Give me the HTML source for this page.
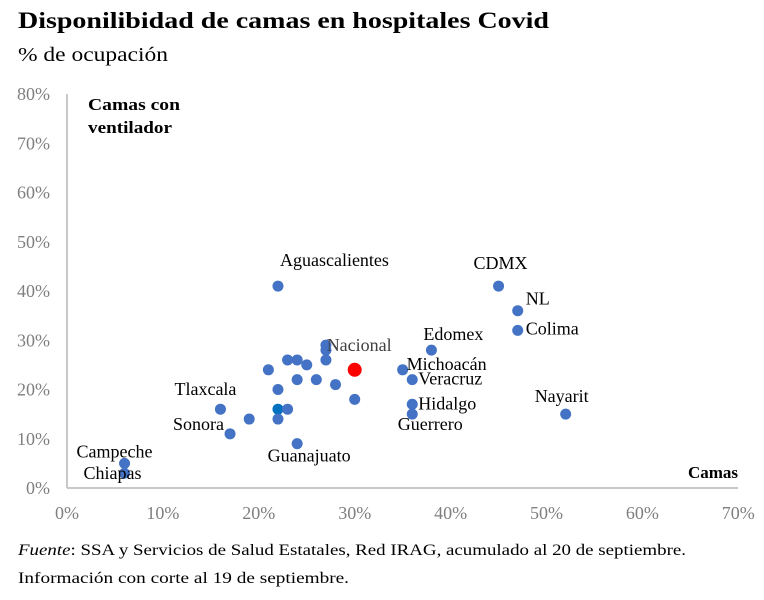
<!DOCTYPE html>
<html><head><meta charset="utf-8"><style>
body{margin:0;background:#fff;width:764px;height:595px;overflow:hidden;font-family:"Liberation Serif",serif}
</style></head><body>
<svg width="764" height="595">
<text x="18" y="28" font-size="23" font-weight="bold" fill="#000" textLength="531" lengthAdjust="spacingAndGlyphs">Disponilibidad de camas en hospitales Covid</text>
<text x="18" y="61" font-size="20" fill="#000" textLength="150" lengthAdjust="spacingAndGlyphs">% de ocupación</text>
<g id="axes"></g>
<g id="pts"></g>
<text x="88" y="110" font-size="17" font-weight="bold" textLength="92" lengthAdjust="spacingAndGlyphs">Camas con</text>
<text x="88" y="133" font-size="17" font-weight="bold" textLength="84" lengthAdjust="spacingAndGlyphs">ventilador</text>
<text x="738" y="478" font-size="17" font-weight="bold" text-anchor="end">Camas</text>
<text x="18" y="555" font-size="16" textLength="668" lengthAdjust="spacingAndGlyphs"><tspan font-style="italic">Fuente</tspan>: SSA y Servicios de Salud Estatales, Red IRAG, acumulado al 20 de septiembre.</text>
<text x="18" y="583" font-size="16" textLength="331" lengthAdjust="spacingAndGlyphs">Información con corte al 19 de septiembre.</text>
</svg>
<script>
const xTicks=[0,10,20,30,40,50,60,70];
const yTicks=[0,10,20,30,40,50,60,70,80];
const names=["Aguascalientes","","","","","","","","Nacional","Michoacán","","","","","","Tlaxcala","","","","","Sonora","Guanajuato","Edomex","Veracruz","Hidalgo","Guerrero","CDMX","NL","Colima","Nayarit","Campeche","Chiapas"];
const xVals=[22,27,27,27,23,24,25,21,30,35,24,26,28,22,30,16,22,23,19,22,17,24,38,36,36,36,45,47,47,52,6,6];
const yVals=[41,29,28,26,26,26,25,24,24,24,22,22,21,20,18,16,16,16,14,14,11,9,28,22,17,15,41,36,32,15,5,3];
const labelPos={"Aguascalientes":[2,-20,"start"],"Nacional":[-28,-19,"start"],"Michoacán":[4,-0,"start"],"Tlaxcala":[16,-14,"end"],"Sonora":[-6,-4,"end"],"Guanajuato":[12,18,"middle"],"Edomex":[22,-10,"middle"],"Veracruz":[6,5,"start"],"Hidalgo":[6,5,"start"],"Guerrero":[18,16,"middle"],"CDMX":[2,-17,"middle"],"NL":[8,-6,"start"],"Colima":[8,4,"start"],"Nayarit":[-4,-12,"middle"],"Campeche":[-10,-6,"middle"],"Chiapas":[-12,6,"middle"]};
const X=v=>67+v*9.59, Y=v=>488-v*4.925;
const ns="http://www.w3.org/2000/svg";
const ax=document.getElementById('axes'), pg=document.getElementById('pts');
function mk(t,a,p){const e=document.createElementNS(ns,t);for(const k in a)e.setAttribute(k,a[k]);p.appendChild(e);return e;}
let l=mk('line',{x1:67,y1:488,x2:738,y2:488,stroke:'#c8c8c8','stroke-width':2},ax);


l=mk('line',{x1:67,y1:94,x2:67,y2:488,stroke:'#c8c8c8','stroke-width':2},ax);


xTicks.forEach(v=>{const t=mk('text',{x:X(v),y:519,'font-size':18,fill:'#7f7f7f','text-anchor':'middle'},ax);t.textContent=v+'%';

});
yTicks.forEach(v=>{const t=mk('text',{x:50,y:Y(v)+6,'font-size':18,fill:'#7f7f7f','text-anchor':'end'},ax);t.textContent=v+'%';

});
xVals.forEach((v,i)=>{const n=names[i];const c=mk('circle',{cx:X(v),cy:Y(yVals[i]),r:5.5,fill:n==="Nacional"?'#ff0000':(i===16?'#0070c0':'#4472c4')},pg);
if(n==="Nacional")c.setAttribute('r',7);


if(n){const p=labelPos[n];const t=mk('text',{x:X(v)+p[0],y:Y(yVals[i])+p[1],'font-size':18,fill:n==="Nacional"?'#404040':'#000','text-anchor':p[2]},pg);t.textContent=n;

}});
</script>
</body></html>
